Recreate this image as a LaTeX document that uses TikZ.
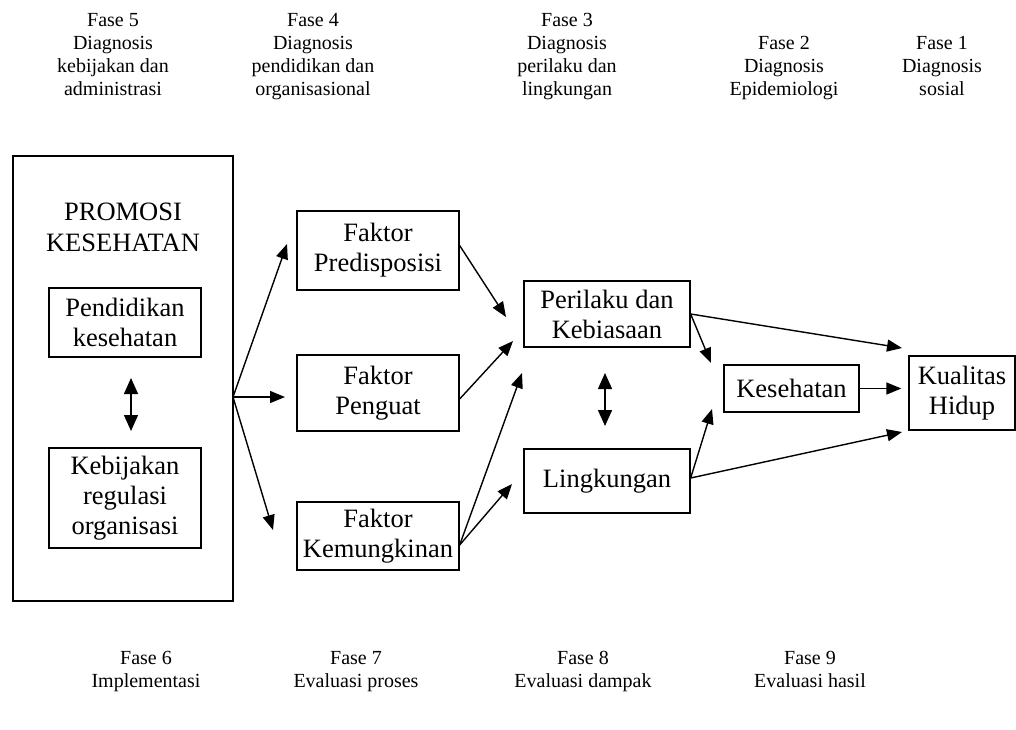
\documentclass[tikz,border=0pt]{standalone}
\usepackage{fontspec}
\setmainfont{Liberation Serif}
\usetikzlibrary{arrows.meta}
\tikzset{
  kotak/.style={draw, line width=1.3pt, align=center, inner sep=0pt,
    font=\fontsize{26.5}{30}\selectfont},
  teks/.style={align=center, inner sep=0pt, anchor=base,
    font=\fontsize{20}{23}\selectfont},
  panah/.style={line width=1.4pt, -{Triangle[length=15pt,width=12pt]}},
  duapanah/.style={line width=1.4pt,
    {Triangle[length=16pt,width=14pt]}-{Triangle[length=16pt,width=14pt]}},
}
\begin{document}
\begin{tikzpicture}[x=1pt,y=-1pt]
\useasboundingbox (0,0) rectangle (1016,729);
% judul fase diagnosis
\node[teks] (f5) at (113,95.5) {Fase 5\\Diagnosis\\kebijakan dan\\administrasi};
\node[teks] (f4) at (313,95.5) {Fase 4\\Diagnosis\\pendidikan dan\\organisasional};
\node[teks] (f3) at (567,95.5) {Fase 3\\Diagnosis\\perilaku dan\\lingkungan};
\node[teks] (f2) at (784,95) {Fase 2\\Diagnosis\\Epidemiologi};
\node[teks] (f1) at (942,95) {Fase 1\\Diagnosis\\sosial};
% fase evaluasi
\node[teks] (f6) at (146,687) {Fase 6\\Implementasi};
\node[teks] (f7) at (356,687) {Fase 7\\Evaluasi proses};
\node[teks] (f8) at (583,687) {Fase 8\\Evaluasi dampak};
\node[teks] (f9) at (810,687) {Fase 9\\Evaluasi hasil};
% kotak promosi
\node[kotak, minimum width=220pt, minimum height=445pt] (prom) at (123,378.5) {};
\node[align=center, inner sep=0pt, font=\fontsize{26.5}{31}\selectfont] (judul) at (123,227.5) {PROMOSI\\KESEHATAN};
\node[kotak, minimum width=152pt, minimum height=69pt] (pend) at (125,322.5) {Pendidikan\\kesehatan};
\node[kotak, minimum width=152pt, minimum height=100pt] (kebij) at (125,498) {Kebijakan\\regulasi\\organisasi};
% faktor
\node[kotak, minimum width=162pt, minimum height=79pt] (pred) at (378,250.5) {Faktor\\Predisposisi};
\node[kotak, minimum width=162pt, minimum height=76pt] (peng) at (378,393) {Faktor\\Penguat};
\node[kotak, minimum width=162pt, minimum height=68pt] (kemung) at (378,536) {Faktor\\Kemungkinan};
% perilaku, lingkungan, kesehatan
\node[kotak, minimum width=166pt, minimum height=66pt] (peri) at (607,314) {Perilaku dan\\Kebiasaan};
\node[kotak, minimum width=166pt, minimum height=64pt] (lingk) at (607,481) {Lingkungan};
\node[kotak, minimum width=135pt, minimum height=47pt] (kes) at (791.5,388.5) {Kesehatan};
\node[kotak, minimum width=106pt, minimum height=74pt] (kual) at (962,393) {Kualitas\\Hidup};
% titik ujung panah
\coordinate (fan) at (233,397);
\coordinate (u1) at (287,244);
\coordinate (u2) at (285,397);
\coordinate (u3) at (273,530);
\coordinate (p1) at (506,317);
\coordinate (p2) at (513,341);
\coordinate (p3) at (522,373);
\coordinate (l1) at (512,484);
\coordinate (k1) at (711,363);
\coordinate (k2) at (712,409);
\coordinate (q1) at (902,348);
\coordinate (q2) at (902,432);
% panah
\draw[duapanah] (131,378) -- (131,431);
\draw[duapanah] (605,373) -- (605,426);
\draw[panah] (fan) -- (u1);
\draw[panah] (fan) -- (u2);
\draw[panah] (fan) -- (u3);
\draw[panah] ([yshift=5pt]pred.east) -- (p1);
\draw[panah] ([yshift=-6pt]peng.east) -- (p2);
\draw[panah] ([yshift=-9pt]kemung.east) -- (p3);
\draw[panah] ([yshift=-9pt]kemung.east) -- (l1);
\draw[panah] (peri.east) -- (q1);
\draw[panah] (peri.east) -- (k1);
\draw[panah] ([yshift=3pt]lingk.east) -- (k2);
\draw[panah] ([yshift=3pt]lingk.east) -- (q2);
\draw[panah, shorten >=7pt] (kes.east) -- (kes.east -| kual.west);
\end{tikzpicture}
\end{document}
